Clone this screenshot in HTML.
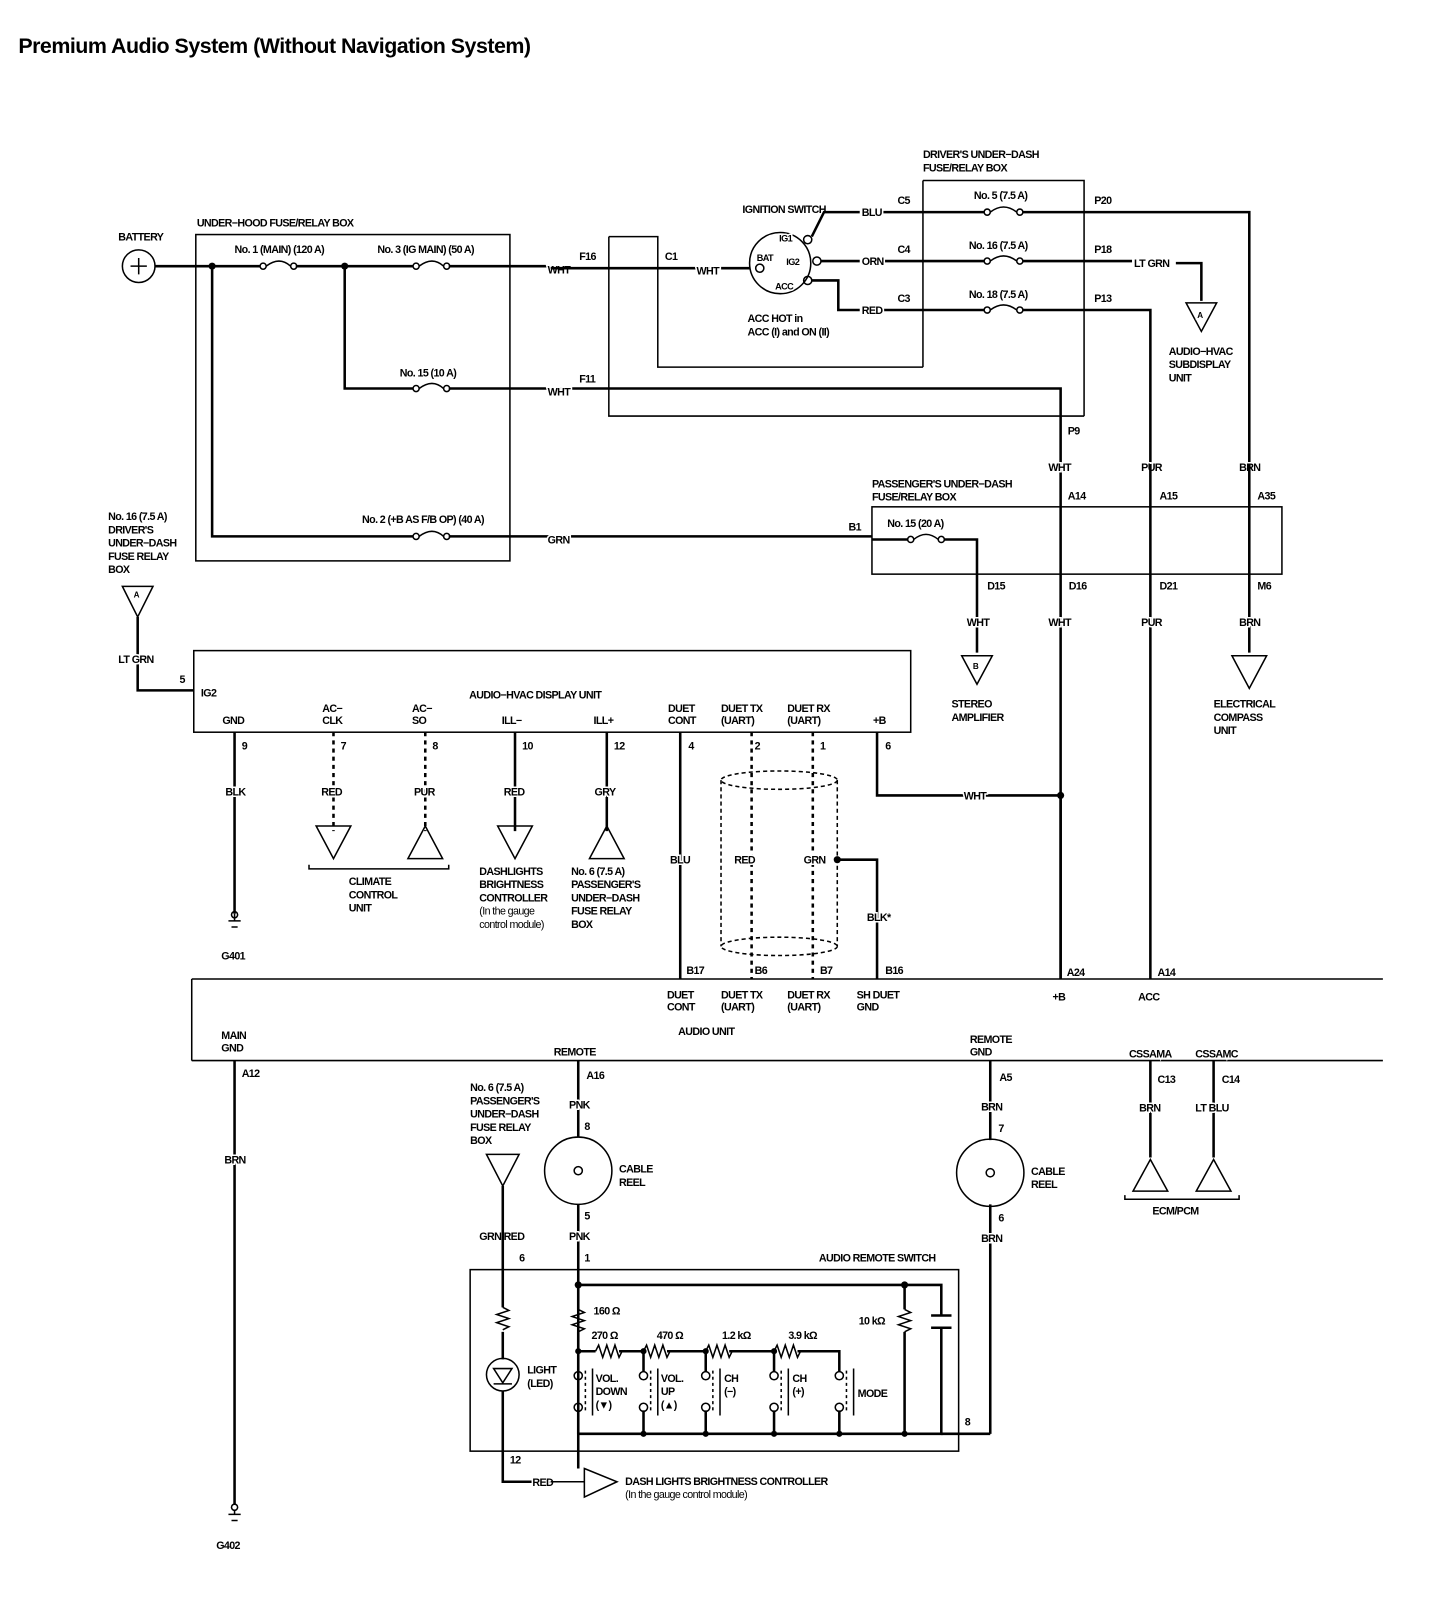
<!DOCTYPE html>
<html><head><meta charset="utf-8"><style>
html,body{margin:0;padding:0;background:#fff}
svg{display:block}
text{font-family:"Liberation Sans",sans-serif;font-weight:bold;font-size:10.5px;letter-spacing:-0.6px;fill:#000;stroke:#fff;stroke-width:3px;paint-order:stroke fill}
.w{stroke:#000;stroke-width:2.5;fill:none}
.t{stroke:#000;stroke-width:1.5;fill:none}
.d{stroke:#000;stroke-width:2.5;fill:none;stroke-dasharray:4 4}
</style></head><body>
<svg width="1440" height="1598" viewBox="0 0 1412 1567" preserveAspectRatio="none" xmlns="http://www.w3.org/2000/svg">
<text x="18" y="52" style="font-size:21px;letter-spacing:-0.5px">Premium Audio System (Without Navigation System)</text>

<circle cx="136" cy="261" r="16" class="t"/>
<path d="M128 261h16M136 253v16" class="t"/>
<text x="116" y="236">BATTERY</text>
<rect x="192" y="230" width="308" height="320" class="t"/>
<text x="193" y="222">UNDER−HOOD FUSE/RELAY BOX</text>
<path d="M152 261H255M290 261H405M440 261H540" class="w"/>
<circle cx="208" cy="261" r="3.5"/><circle cx="338" cy="261" r="3.5"/>
<g class="t"><circle cx="258" cy="261" r="3"/><circle cx="288" cy="261" r="3"/><path d="M261 261q13 -10 24 0"/>
<circle cx="408" cy="261" r="3"/><circle cx="438" cy="261" r="3"/><path d="M411 261q13 -10 24 0"/>
<circle cx="408" cy="381" r="3"/><circle cx="438" cy="381" r="3"/><path d="M411 381q13 -10 24 0"/>
<circle cx="408" cy="526" r="3"/><circle cx="438" cy="526" r="3"/><path d="M411 526q13 -10 24 0"/></g>
<text x="230" y="248">No. 1 (MAIN) (120 A)</text>
<text x="370" y="248">No. 3 (IG MAIN) (50 A)</text>
<text x="392" y="369">No. 15 (10 A)</text>
<text x="355" y="513">No. 2 (+B AS F/B OP) (40 A)</text>
<path d="M208 261V526H405M440 526H855" class="w"/>
<path d="M338 261V381H405M440 381H1040V960" class="w"/>
<text x="537" y="268">WHT</text><text x="568" y="255">F16</text>
<text x="537" y="388">WHT</text><text x="568" y="375">F11</text>
<text x="537" y="533">GRN</text>
<path d="M540 263H735" class="w"/>
<text x="652" y="255">C1</text><text x="683" y="269">WHT</text>
<path d="M597 232H645V360H905M597 232V408H1063" class="t"/>
<circle cx="765" cy="258" r="30" class="t"/>
<text x="728" y="209">IGNITION SWITCH</text>
<text x="764" y="237" style="font-size:9px">IG1</text><text x="742" y="256" style="font-size:9px">BAT</text>
<text x="771" y="260" style="font-size:9px">IG2</text><text x="760" y="284" style="font-size:9px">ACC</text>
<g class="t"><circle cx="792" cy="235" r="4"/><circle cx="745" cy="263" r="4"/><circle cx="801" cy="256" r="4"/><circle cx="792" cy="275" r="4"/></g>
<path d="M796 232 L808 208H843M866 208H905M805 256H843M866 256H905M796 275L822 275V304H843M866 304H905" class="w"/>
<text x="845" y="212">BLU</text><text x="845" y="260">ORN</text><text x="845" y="308">RED</text>
<text x="880" y="200">C5</text><text x="880" y="248">C4</text><text x="880" y="296">C3</text>
<text x="733" y="316">ACC HOT in</text><text x="733" y="329">ACC (I) and ON (II)</text>
<path d="M905 177H1063V408M905 177V360" class="t"/>
<text x="905" y="155">DRIVER'S UNDER−DASH</text><text x="905" y="168">FUSE/RELAY BOX</text>
<path d="M905 208H965M1003 208H1225V455M905 256H965M1003 256H1110M1153 258H1178V295M905 304H965M1003 304H1128V455" class="w"/>
<g class="t"><circle cx="968" cy="208" r="3"/><circle cx="1000" cy="208" r="3"/><path d="M971 208q13 -10 26 0"/>
<circle cx="968" cy="256" r="3"/><circle cx="1000" cy="256" r="3"/><path d="M971 256q13 -10 26 0"/>
<circle cx="968" cy="304" r="3"/><circle cx="1000" cy="304" r="3"/><path d="M971 304q13 -10 26 0"/></g>
<text x="955" y="195">No. 5 (7.5 A)</text><text x="950" y="244">No. 16 (7.5 A)</text><text x="950" y="292">No. 18 (7.5 A)</text>
<text x="1073" y="200">P20</text><text x="1073" y="248">P18</text><text x="1073" y="296">P13</text>
<text x="1112" y="262">LT GRN</text>
<path d="M1163 297H1193L1178 325Z" class="t"/><text x="1174" y="312" style="font-size:8px">A</text>
<text x="1146" y="348">AUDIO−HVAC</text><text x="1146" y="361">SUBDISPLAY</text><text x="1146" y="374">UNIT</text>
<text x="1047" y="426">P9</text>
<text x="1028" y="462">WHT</text><text x="1119" y="462">PUR</text><text x="1215" y="462">BRN</text>
<rect x="855" y="497" width="402" height="66" class="t"/>
<text x="855" y="478">PASSENGER'S UNDER−DASH</text><text x="855" y="491">FUSE/RELAY BOX</text>
<text x="1047" y="490">A14</text><text x="1137" y="490">A15</text><text x="1233" y="490">A35</text>
<text x="832" y="520">B1</text><text x="870" y="517">No. 15 (20 A)</text>
<g class="t"><circle cx="893" cy="529" r="3"/><circle cx="923" cy="529" r="3"/><path d="M896 529q12 -10 24 0"/></g>
<path d="M855 529H890M926 529H958V640M1128 455V960M1225 455V640" class="w"/>
<text x="968" y="578">D15</text><text x="1048" y="578">D16</text><text x="1137" y="578">D21</text><text x="1233" y="578">M6</text>
<text x="948" y="614">WHT</text><text x="1028" y="614">WHT</text><text x="1119" y="614">PUR</text><text x="1215" y="614">BRN</text>
<path d="M943 643H973L958 671Z" class="t"/><text x="954" y="656" style="font-size:8px">B</text>
<text x="933" y="694">STEREO</text><text x="933" y="707">AMPLIFIER</text>
<path d="M1208 643H1242L1225 675Z" class="t"/>
<text x="1190" y="694">ELECTRICAL</text><text x="1190" y="707">COMPASS</text><text x="1190" y="720">UNIT</text>
<text x="106" y="510">No. 16 (7.5 A)</text><text x="106" y="523">DRIVER'S</text><text x="106" y="536">UNDER−DASH</text><text x="106" y="549">FUSE RELAY</text><text x="106" y="562">BOX</text>
<path d="M120 575H150L135 605Z" class="t"/><text x="131" y="586" style="font-size:8px">A</text>
<path d="M135 605V677H190" class="w"/>
<text x="116" y="650">LT GRN</text><text x="176" y="670">5</text>
<rect x="190" y="638" width="703" height="80" class="t"/>
<text x="460" y="685">AUDIO−HVAC DISPLAY UNIT</text>
<text x="197" y="683">IG2</text><text x="218" y="710">GND</text>
<text x="316" y="698">AC−</text><text x="316" y="710">CLK</text>
<text x="404" y="698">AC−</text><text x="404" y="710">SO</text>
<text x="492" y="710">ILL−</text><text x="582" y="710">ILL+</text>
<text x="655" y="698">DUET</text><text x="655" y="710">CONT</text>
<text x="707" y="698">DUET TX</text><text x="707" y="710">(UART)</text>
<text x="772" y="698">DUET RX</text><text x="772" y="710">(UART)</text>
<text x="856" y="710">+B</text>
<path d="M230 718V896M505 718V815M595 718V815M667 718V960M860 718V780H1040M1040 780V960" class="w"/>
<circle cx="1040" cy="780" r="3.5"/>
<path d="M327 718V815M417 718V815M737 718V960M797 718V960" class="d"/>
<text x="237" y="735">9</text><text x="334" y="735">7</text><text x="424" y="735">8</text><text x="512" y="735">10</text><text x="602" y="735">12</text><text x="675" y="735">4</text><text x="740" y="735">2</text><text x="804" y="735">1</text><text x="868" y="735">6</text>
<text x="221" y="780">BLK</text><text x="315" y="780">RED</text><text x="406" y="780">PUR</text><text x="494" y="780">RED</text><text x="583" y="780">GRY</text>
<text x="945" y="784">WHT</text>
<path d="M310 810H344L327 842Z" class="t"/><path d="M400 842H434L417 810Z" class="t"/>
<path d="M488 810H522L505 842Z" class="t"/><path d="M578 842H612L595 810Z" class="t"/>
<path d="M303 848V852H440V848" class="t"/>
<text x="342" y="868">CLIMATE</text><text x="342" y="881">CONTROL</text><text x="342" y="894">UNIT</text>
<text x="470" y="858">DASHLIGHTS</text><text x="470" y="871">BRIGHTNESS</text><text x="470" y="884">CONTROLLER</text><text x="470" y="897" style="font-weight:normal">(In the gauge</text><text x="470" y="910" style="font-weight:normal">control module)</text>
<text x="560" y="858">No. 6 (7.5 A)</text><text x="560" y="871">PASSENGER'S</text><text x="560" y="884">UNDER−DASH</text><text x="560" y="897">FUSE RELAY</text><text x="560" y="910">BOX</text>
<path d="M224 903H236M227 909H233M230 896V903" class="t"/><circle cx="230" cy="897" r="3" class="t"/>
<text x="217" y="941">G401</text>
<ellipse cx="764" cy="765" rx="57" ry="9" class="t" stroke-dasharray="4 3"/>
<ellipse cx="764" cy="928" rx="57" ry="9" class="t" stroke-dasharray="4 3"/>
<path d="M707 765V928M821 765V928" class="t" stroke-dasharray="4 3"/>
<path d="M821 843H860V960" class="w"/><circle cx="821" cy="843" r="3.5"/>
<text x="657" y="847">BLU</text><text x="720" y="847">RED</text><text x="788" y="847">GRN</text><text x="850" y="903">BLK*</text>
<text x="673" y="955">B17</text><text x="740" y="955">B6</text><text x="804" y="955">B7</text><text x="868" y="955">B16</text>
<text x="1046" y="957">A24</text><text x="1135" y="957">A14</text>
<path d="M188 960H1356M188 1040H1356M188 960V1040" class="t"/>
<text x="654" y="979">DUET</text><text x="654" y="991">CONT</text>
<text x="707" y="979">DUET TX</text><text x="707" y="991">(UART)</text>
<text x="772" y="979">DUET RX</text><text x="772" y="991">(UART)</text>
<text x="840" y="979">SH DUET</text><text x="840" y="991">GND</text>
<text x="1032" y="981">+B</text><text x="1116" y="981">ACC</text>
<text x="665" y="1015">AUDIO UNIT</text>
<text x="217" y="1019">MAIN</text><text x="217" y="1031">GND</text>
<text x="543" y="1035">REMOTE</text>
<text x="951" y="1023">REMOTE</text><text x="951" y="1035">GND</text>
<text x="1107" y="1037">CSSAMA</text><text x="1172" y="1037">CSSAMC</text>
<path d="M230 1040V1475M567 1040V1115M567 1181V1440M971 1040V1118M971 1181V1406M1128 1040V1135M1190 1040V1135" class="w"/>
<text x="237" y="1056">A12</text><text x="575" y="1058">A16</text><text x="980" y="1060">A5</text><text x="1135" y="1062">C13</text><text x="1198" y="1062">C14</text>
<text x="220" y="1141">BRN</text><text x="558" y="1087">PNK</text><text x="962" y="1089">BRN</text><text x="1117" y="1090">BRN</text><text x="1172" y="1090">LT BLU</text>
<path d="M1111 1168H1145L1128 1137Z" class="t"/><path d="M1173 1168H1207L1190 1137Z" class="t"/>
<path d="M1103 1172V1176H1215V1172" class="t"/><text x="1130" y="1191">ECM/PCM</text>
<circle cx="567" cy="1148" r="33" class="t"/><circle cx="567" cy="1148" r="4" class="t"/>
<circle cx="971" cy="1150" r="33" class="t"/><circle cx="971" cy="1150" r="4" class="t"/>
<text x="573" y="1108">8</text><text x="573" y="1196">5</text><text x="979" y="1110">7</text><text x="979" y="1198">6</text>
<text x="607" y="1150">CABLE</text><text x="607" y="1163">REEL</text>
<text x="1011" y="1152">CABLE</text><text x="1011" y="1165">REEL</text>
<text x="558" y="1216">PNK</text><text x="962" y="1218">BRN</text>
<text x="573" y="1237">1</text><text x="509" y="1237">6</text>
<text x="461" y="1070">No. 6 (7.5 A)</text><text x="461" y="1083">PASSENGER'S</text><text x="461" y="1096">UNDER−DASH</text><text x="461" y="1109">FUSE RELAY</text><text x="461" y="1122">BOX</text>
<path d="M477 1132H509L493 1163Z" class="t"/>
<text x="470" y="1216">GRN/RED</text>
<rect x="461" y="1245" width="479" height="178" class="t"/>
<text x="803" y="1237">AUDIO REMOTE SWITCH</text>
<path d="M493 1163V1282M493 1306V1333M493 1364V1453H540" class="w"/>
<path d="M493 1282l6 3-12 4 12 4-12 4 12 4-6 3" class="t"/>
<circle cx="493" cy="1348" r="16" class="t"/><path d="M484 1342H502L493 1356ZM484 1357H502" class="t"/>
<text x="517" y="1347">LIGHT</text><text x="517" y="1360">(LED)</text>
<text x="500" y="1435">12</text><text x="522" y="1457">RED</text>
<path d="M540 1453H573M573 1440L605 1453L573 1468Z" class="t"/>
<text x="613" y="1456">DASH LIGHTS BRIGHTNESS CONTROLLER</text>
<text x="613" y="1469" style="font-weight:normal">(In the gauge control module)</text>
<path d="M567 1260H923V1290M923 1302V1406H567" class="w"/>
<circle cx="567" cy="1260" r="3.5"/><circle cx="887" cy="1260" r="3.5"/>
<path d="M913 1290H933M913 1302H933" class="w"/>
<path d="M887 1260V1284M887 1306V1406" class="w"/>
<path d="M887 1284l6 3-12 4 12 4-12 4 12 4-6 3" class="t"/>
<text x="842" y="1299">10 kΩ</text>
<path d="M567 1260V1284M567 1306V1325H584M607 1325H631M654 1325H692M715 1325H759M782 1325H823V1345" class="w"/>
<path d="M567 1284l6 3-12 4 12 4-12 4 12 4-6 3" class="t"/>
<path d="M584 1325l3-6 4 12 4-12 4 12 4-12 4 12 3-6M631 1325l3-6 4 12 4-12 4 12 4-12 4 12 3-6M692 1325l3-6 4 12 4-12 4 12 4-12 4 12 3-6M759 1325l3-6 4 12 4-12 4 12 4-12 4 12 3-6" class="t"/>
<text x="582" y="1289">160 Ω</text><text x="580" y="1313">270 Ω</text><text x="644" y="1313">470 Ω</text><text x="708" y="1313">1.2 kΩ</text><text x="773" y="1313">3.9 kΩ</text>
<g>
<circle cx="567" cy="1325" r="3"/><circle cx="631" cy="1325" r="3"/><circle cx="692" cy="1325" r="3"/><circle cx="759" cy="1325" r="3"/>
</g>
<path d="M567 1325V1345M631 1325V1345M692 1325V1345M759 1325V1345M567 1383V1406M631 1383V1406M692 1383V1406M759 1383V1406M823 1383V1406" class="w"/>
<g class="t"><circle cx="567" cy="1349" r="4"/><circle cx="567" cy="1380" r="4"/><circle cx="631" cy="1349" r="4"/><circle cx="631" cy="1380" r="4"/><circle cx="692" cy="1349" r="4"/><circle cx="692" cy="1380" r="4"/><circle cx="759" cy="1349" r="4"/><circle cx="759" cy="1380" r="4"/><circle cx="823" cy="1349" r="4"/><circle cx="823" cy="1380" r="4"/></g>
<path d="M574 1344V1386M638 1344V1386M699 1344V1386M766 1344V1386M830 1344V1386" class="t" stroke-dasharray="3 3"/>
<path d="M581 1342V1388M645 1342V1388M706 1342V1388M773 1342V1388M837 1342V1388" class="t"/>
<text x="584" y="1355">VOL.</text><text x="584" y="1368">DOWN</text><text x="584" y="1381">(▼)</text>
<text x="648" y="1355">VOL.</text><text x="648" y="1368">UP</text><text x="648" y="1381">(▲)</text>
<text x="710" y="1355">CH</text><text x="710" y="1368">(−)</text>
<text x="777" y="1355">CH</text><text x="777" y="1368">(+)</text>
<text x="841" y="1370">MODE</text>
<circle cx="631" cy="1406" r="3"/><circle cx="692" cy="1406" r="3"/><circle cx="759" cy="1406" r="3"/><circle cx="823" cy="1406" r="3"/><circle cx="887" cy="1406" r="3"/>
<path d="M923 1406H971" class="w"/><text x="946" y="1398">8</text>
<circle cx="230" cy="1478" r="3" class="t"/><path d="M224 1485H236M227 1491H233M230 1481V1485" class="t"/>
<text x="212" y="1519">G402</text>
</svg>
</body></html>
